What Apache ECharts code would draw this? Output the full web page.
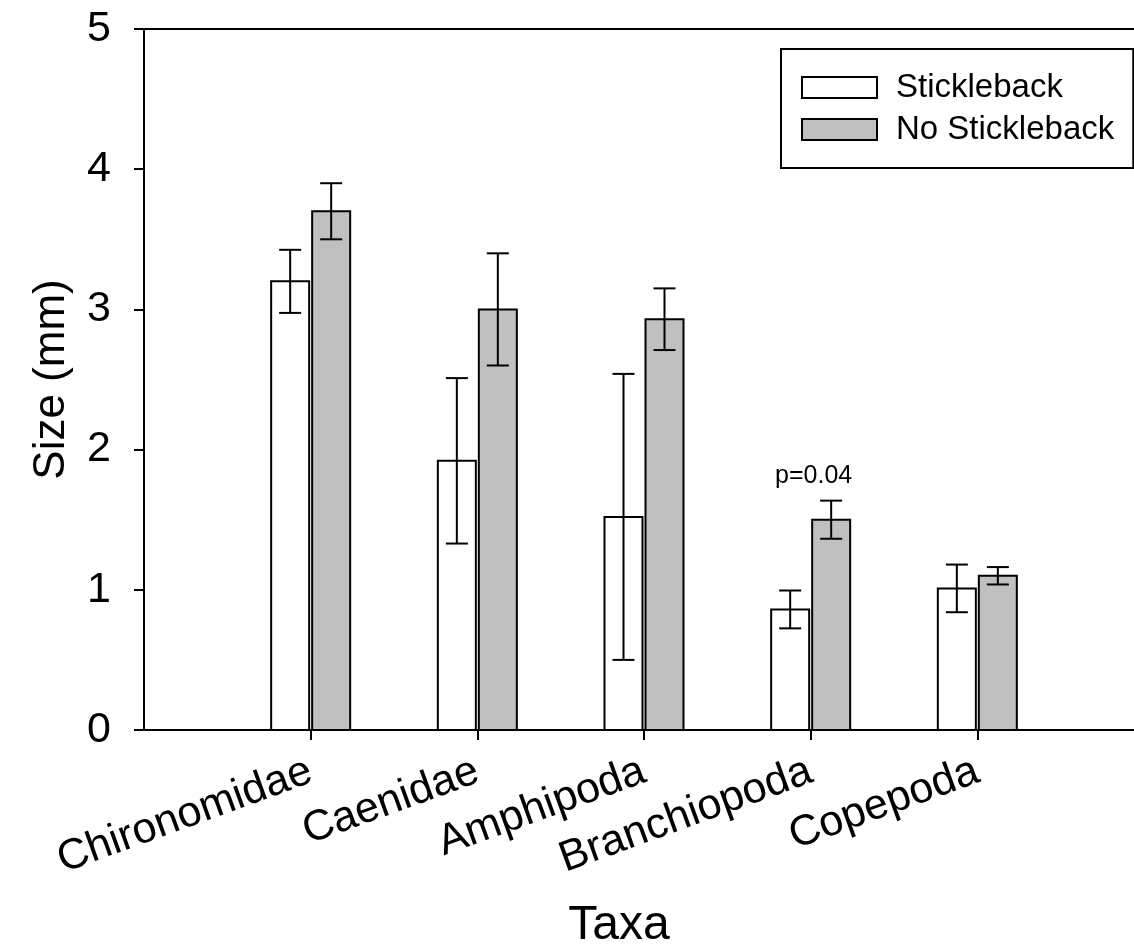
<!DOCTYPE html>
<html><head><meta charset="utf-8">
<script src="https://cdn.jsdelivr.net/npm/echarts@6/dist/echarts.min.js"></script>
<style>html,body{margin:0;padding:0;background:#fff;overflow:hidden}#c{width:1134px;height:949px}</style>
</head><body><div id="c"></div>
<script>
const categories = ['Chironomidae', 'Caenidae', 'Amphipoda', 'Branchiopoda', 'Copepoda'];
const seriesNames = ['Stickleback', 'No Stickleback'];
const sticklebackMean = [3.2, 1.92, 1.52, 0.86, 1.01];
const sticklebackErr = [0.225, 0.59, 1.02, 0.135, 0.17];
const noSticklebackMean = [3.7, 3.0, 2.93, 1.5, 1.1];
const noSticklebackErr = [0.2, 0.4, 0.22, 0.136, 0.062];
const yTicks = [0, 1, 2, 3, 4, 5];
const annotations = [{ category: 'Branchiopoda', series: 'No Stickleback', text: 'p=0.04' }];

const FONT = '"Liberation Sans", Arial, sans-serif';
const catPos = categories.map((c, i) => i + 1);

function makeData(means, errs) {
  return means.map((m, i) => [catPos[i], m, errs[i]]);
}

function renderer(side, fill, seriesName) {
  return function (params, api) {
    const x = api.value(0), v = api.value(1), e = api.value(2);
    const base = api.coord([x, 0]);
    const top = api.coord([x, v]);
    const hi = api.coord([x, v + e]);
    const lo = api.coord([x, v - e]);
    const tick = base[0];
    const x0 = side < 0 ? tick - 39.5 : tick + 1.5;
    const w = 38;
    const cx = x0 + w / 2;
    const cap = 11;
    const children = [
      { type: 'rect', shape: { x: x0, y: top[1], width: w, height: base[1] - top[1] },
        style: { fill: fill, stroke: '#000', lineWidth: 2 } },
      { type: 'line', shape: { x1: cx, y1: hi[1], x2: cx, y2: lo[1] }, style: { stroke: '#000', lineWidth: 2 } },
      { type: 'line', shape: { x1: cx - cap, y1: hi[1], x2: cx + cap, y2: hi[1] }, style: { stroke: '#000', lineWidth: 2 } },
      { type: 'line', shape: { x1: cx - cap, y1: lo[1], x2: cx + cap, y2: lo[1] }, style: { stroke: '#000', lineWidth: 2 } }
    ];
    const cat = categories[params.dataIndex];
    annotations.forEach(a => {
      if (a.category === cat && a.series === seriesName) {
        children.push({ type: 'text', style: { text: a.text, x: tick + 3, y: hi[1] - 12, align: 'center', verticalAlign: 'bottom',
          fill: '#000', font: '25px ' + FONT } });
      }
    });
    return { type: 'group', children: children };
  };
}

const chart = echarts.init(document.getElementById('c'), null, { renderer: 'canvas' });
const axisLineStyle = { color: '#000', width: 2 };
chart.setOption({
  animation: false,
  backgroundColor: '#fff',
  textStyle: { fontFamily: FONT },
  grid: { left: 144, right: 0, top: 29, bottom: 219, containLabel: false, outerBoundsMode: 'none' },
  legend: {
    orient: 'vertical', left: 781, top: 49,
    data: [
      { name: seriesNames[0], icon: 'rect', itemStyle: { color: '#fff', borderColor: '#000', borderWidth: 2 } },
      { name: seriesNames[1], icon: 'rect', itemStyle: { color: '#c0c0c0', borderColor: '#000', borderWidth: 2 } }
    ],
    itemWidth: 75, itemHeight: 21, itemGap: 9,
    padding: [22, 19, 22, 20], borderColor: '#000', borderWidth: 2,
    textStyle: { fontSize: 33, color: '#000', fontFamily: FONT, padding: [0, 0, 0, 14] }
  },
  xAxis: [{
    type: 'value', min: 0, max: 5.94, interval: 1,
    name: 'Taxa', nameLocation: 'middle', nameGap: 172,
    nameTextStyle: { fontSize: 48, color: '#000', fontFamily: FONT, padding: [0, 40, 0, 0] },
    axisLine: { show: true, lineStyle: axisLineStyle },
    axisTick: { show: true, inside: false, length: 10, lineStyle: axisLineStyle, customValues: catPos },
    axisLabel: { show: true, customValues: catPos, rotate: 20, margin: 40, fontSize: 43, color: '#000', fontFamily: FONT,
      formatter: v => categories[Math.round(v) - 1] || '' },
    splitLine: { show: false }
  }, {
    type: 'value', min: 0, max: 5.94, position: 'top',
    axisLine: { show: true, lineStyle: axisLineStyle },
    axisTick: { show: false }, axisLabel: { show: false }, splitLine: { show: false }
  }],
  yAxis: {
    type: 'value', min: 0, max: 5, interval: 1,
    name: 'Size (mm)', nameLocation: 'middle', nameGap: 70, nameRotate: 90,
    nameTextStyle: { fontSize: 44, color: '#000', fontFamily: FONT },
    axisLine: { show: true, lineStyle: axisLineStyle },
    axisTick: { show: true, inside: false, length: 10, lineStyle: axisLineStyle, customValues: yTicks },
    axisLabel: { fontSize: 43, color: '#000', margin: 33, fontFamily: FONT, customValues: yTicks },
    splitLine: { show: false }
  },
  series: [
    { name: seriesNames[0], type: 'custom', xAxisIndex: 0, renderItem: renderer(-1, '#fff', seriesNames[0]),
      encode: { x: 0, y: 1 }, data: makeData(sticklebackMean, sticklebackErr), itemStyle: { color: '#fff', borderColor: '#000' } },
    { name: seriesNames[1], type: 'custom', xAxisIndex: 0, renderItem: renderer(1, '#c0c0c0', seriesNames[1]),
      encode: { x: 0, y: 1 }, data: makeData(noSticklebackMean, noSticklebackErr), itemStyle: { color: '#c0c0c0', borderColor: '#000' } }
  ]
});
</script></body></html>
